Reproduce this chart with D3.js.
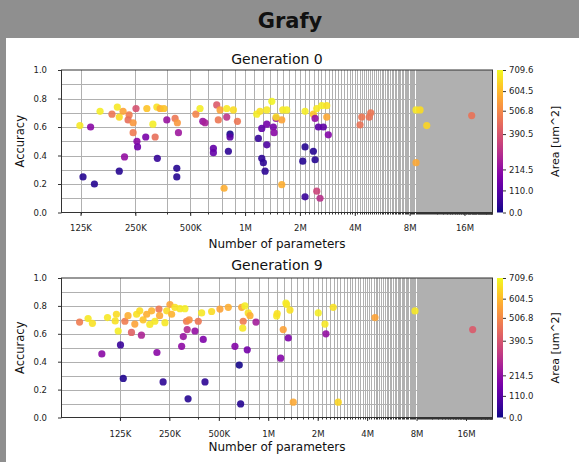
<!DOCTYPE html>
<html><head><meta charset="utf-8">
<script src="https://cdn.jsdelivr.net/npm/d3@7"></script>
<style>body{margin:0;background:#fff}svg{display:block}text{font-family:"DejaVu Sans",sans-serif}</style>
</head><body><svg id="c" width="579" height="462"></svg>
<script>
// ---- data (params in thousands, accuracy, area in um^2) ----
const gen0Params=[124,142,129,149,160,186,199,204,214,231,228,243,243,252,204,218,255,257,285,321,289,328,342,359,312,372,330,413,425,431,422,422,537,566,586,603,670,670,699,729,793,713,793,863,908,827,827,810,767,1159,1208,1316,1402,1183,1235,1316,1430,1443,1480,1316,1235,1260,1288,1590,1610,1590,1693,1480,2134,2371,2474,2635,2807,2807,2422,2525,2689,2864,2134,2371,2073,2422,2134,2474,2579,4275,4368,4809,4895,8676,9126,9932,8676,17530];
const gen0Acc=[0.61,0.60,0.25,0.20,0.71,0.69,0.74,0.67,0.71,0.685,0.65,0.63,0.56,0.73,0.29,0.39,0.50,0.46,0.53,0.53,0.73,0.74,0.73,0.73,0.62,0.65,0.38,0.66,0.63,0.56,0.31,0.25,0.69,0.73,0.64,0.63,0.45,0.42,0.755,0.72,0.73,0.65,0.67,0.72,0.64,0.55,0.53,0.43,0.17,0.69,0.71,0.72,0.78,0.52,0.59,0.62,0.60,0.56,0.66,0.475,0.38,0.35,0.29,0.65,0.72,0.195,0.72,0.67,0.71,0.69,0.73,0.75,0.75,0.67,0.66,0.60,0.60,0.545,0.46,0.43,0.36,0.37,0.11,0.15,0.10,0.615,0.67,0.67,0.70,0.72,0.72,0.61,0.35,0.68];
const gen0Area=[680,200,30,30,690,470,680,660,560,480,450,540,480,380,30,220,200,150,170,450,620,670,580,620,690,230,50,470,540,240,30,30,500,690,230,260,130,130,400,560,680,470,310,660,470,10,110,40,580,690,670,680,700,50,120,160,160,200,230,90,40,40,40,560,680,580,690,660,690,620,680,690,670,570,220,120,120,190,30,30,30,30,60,350,300,460,470,460,470,680,660,650,570,460];

const gen9Params=[71,80,85,97,105,117,119,122,126,131,134,140,147,154,158,169,165,173,182,190,195,204,210,216,218,229,235,241,252,258,270,290,297,304,311,318,325,330,321,358,375,402,412,393,452,508,571,627,666,679,689,704,699,745,755,842,1125,1190,1324,721,774,1134,1234,1281,1420,2016,2215,2246,2488,2669,1294,1356,4466,7825,17570];
const gen9Acc=[0.684,0.709,0.675,0.456,0.716,0.692,0.74,0.62,0.52,0.28,0.69,0.73,0.61,0.67,0.74,0.59,0.765,0.70,0.74,0.667,0.765,0.69,0.466,0.777,0.73,0.255,0.68,0.765,0.81,0.74,0.79,0.78,0.51,0.58,0.78,0.69,0.134,0.70,0.63,0.62,0.69,0.56,0.255,0.75,0.76,0.777,0.79,0.51,0.376,0.097,0.79,0.69,0.64,0.485,0.75,0.684,0.728,0.425,0.57,0.80,0.73,0.745,0.63,0.82,0.11,0.75,0.67,0.60,0.79,0.11,0.81,0.77,0.716,0.764,0.63];
const gen9Area=[480,680,670,200,680,670,660,690,60,20,480,580,420,560,670,270,660,620,580,680,590,680,200,470,570,40,680,660,560,590,670,680,210,230,690,480,30,520,290,220,470,180,40,680,660,560,580,190,10,30,570,480,680,160,670,250,680,190,180,690,580,670,560,690,570,690,680,220,670,650,680,670,560,680,400];

const xTickValues=[125,250,500,1000,2000,4000,8000,16000];
const xTickLabels=["125K","250K","500K","1M","2M","4M","8M","16M"];
const yTickValues=[0,0.2,0.4,0.6,0.8,1.0];
const cbarTicks=[0,110,214.5,390.5,506.8,604.5,709.6];
const areaMax=709.6;
const gridStep=125;

// ---- drawing ----
const svg=d3.select("#c");
svg.append("rect").attr("x",0).attr("y",0).attr("width",579).attr("height",462).attr("fill","#fff");
svg.append("rect").attr("x",0).attr("y",0).attr("width",579).attr("height",38).attr("fill","#8f8f8f");
svg.append("rect").attr("x",0).attr("y",0).attr("width",6).attr("height",462).attr("fill","#8f8f8f");
svg.append("text").attr("x",290).attr("y",28).attr("text-anchor","middle")
  .attr("font-size",21).attr("font-weight","bold").attr("fill","#111").text("Grafy");

const color=d3.scaleSequential(d3.interpolatePlasma).domain([0,areaMax]);

function panel(cfg,params,acc,area){
  const L=61.5,R=492.5;
  const x=d3.scaleLog().base(2).domain(cfg.xDomain).range([L,R]);
  const y=d3.scaleLinear().domain([0,1]).range([cfg.bottom,cfg.top]);
  const g=svg.append("g");
  // vertical grid
  const gv=d3.range(gridStep,cfg.xDomain[1],gridStep).filter(v=>v>cfg.xDomain[0]);
  g.append("g").selectAll("line").data(gv).join("line")
    .attr("x1",d=>Math.round(x(d))+0.5).attr("x2",d=>Math.round(x(d))+0.5)
    .attr("y1",cfg.top).attr("y2",cfg.bottom).attr("stroke","#b0b0b0").attr("stroke-width",1);
  // horizontal grid
  g.append("g").selectAll("line").data(d3.range(1,10).map(i=>i/10)).join("line")
    .attr("x1",L).attr("x2",R).attr("y1",d=>Math.round(y(d))+0.5).attr("y2",d=>Math.round(y(d))+0.5)
    .attr("stroke","#b0b0b0").attr("stroke-width",1);
  // points
  g.append("g").selectAll("circle").data(params.map((p,i)=>({p:p,a:acc[i],c:area[i]}))).join("circle")
    .attr("cx",d=>x(d.p)).attr("cy",d=>y(d.a)).attr("r",3.6)
    .attr("fill",d=>color(d.c)).attr("fill-opacity",0.9);
  // spines
  g.append("rect").attr("x",L).attr("y",cfg.top).attr("width",R-L).attr("height",cfg.bottom-cfg.top)
    .attr("fill","none").attr("stroke","#333").attr("stroke-width",1);
  // minor ticks
  g.append("g").selectAll("line").data(gv).join("line")
    .attr("x1",d=>Math.round(x(d))+0.5).attr("x2",d=>Math.round(x(d))+0.5)
    .attr("y1",cfg.bottom).attr("y2",cfg.bottom+2).attr("stroke","#333");
  // axes
  const xa=g.append("g").attr("transform",`translate(0,${cfg.bottom})`)
    .call(d3.axisBottom(x).tickValues(xTickValues).tickFormat((d,i)=>xTickLabels[i]).tickSize(3.5).tickPadding(cfg.xPad));
  const ya=g.append("g").attr("transform",`translate(${L},0)`)
    .call(d3.axisLeft(y).tickValues(yTickValues).tickFormat(d3.format(".1f")).tickSize(3.5).tickPadding(11));
  [xa,ya].forEach(a=>{a.select(".domain").remove();a.selectAll("text").attr("font-size",8.5).attr("fill","#222").attr("font-family","DejaVu Sans");a.selectAll("line").attr("stroke","#333");});
  // titles
  g.append("text").attr("x",277).attr("y",cfg.titleY).attr("text-anchor","middle").attr("font-size",14).attr("fill","#111").text(cfg.title);
  g.append("text").attr("x",277).attr("y",cfg.labelY).attr("text-anchor","middle").attr("font-size",12).attr("fill","#111").text("Number of parameters");
  g.append("text").attr("transform",`translate(24,${(cfg.top+cfg.bottom)/2}) rotate(-90)`).attr("text-anchor","middle").attr("font-size",11.5).attr("fill","#111").text("Accuracy");
  // colorbar
  const cy=d3.scaleLinear().domain([0,areaMax]).range([cfg.bottom,cfg.top]);
  const id="grad"+cfg.id;
  const grad=svg.append("defs").append("linearGradient").attr("id",id).attr("x1",0).attr("x2",0).attr("y1",1).attr("y2",0);
  grad.selectAll("stop").data(d3.range(0,1.0001,0.05)).join("stop").attr("offset",d=>d).attr("stop-color",d=>d3.interpolatePlasma(d));
  g.append("rect").attr("x",497).attr("y",cfg.top).attr("width",6).attr("height",cfg.bottom-cfg.top).attr("fill",`url(#${id})`);
  const ca=g.append("g").attr("transform","translate(503,0)")
    .call(d3.axisRight(cy).tickValues(cbarTicks).tickFormat(d3.format(".1f")).tickSize(3).tickPadding(3));
  ca.select(".domain").remove();
  ca.selectAll("text").attr("font-size",8.5).attr("fill","#222").attr("font-family","DejaVu Sans");
  ca.selectAll("line").attr("stroke","#333");
  g.append("text").attr("transform",`translate(559,${(cfg.top+cfg.bottom)/2}) rotate(-90)`).attr("text-anchor","middle").attr("font-size",11).attr("fill","#111").text("Area [um^2]");
}

panel({id:0,title:"Generation 0",top:70,bottom:212.5,xDomain:[98.3,22800],titleY:64,labelY:248,xPad:9},gen0Params,gen0Acc,gen0Area);
panel({id:9,title:"Generation 9",top:278,bottom:417.5,xDomain:[55.1,23200],titleY:270,labelY:451,xPad:10},gen9Params,gen9Acc,gen9Area);
</script></body></html>
